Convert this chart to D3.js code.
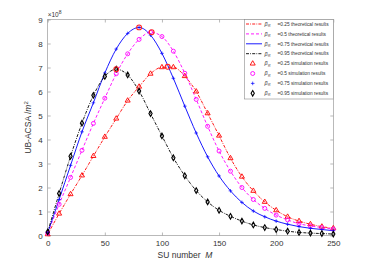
<!DOCTYPE html>
<html>
<head>
<meta charset="utf-8">
<script src="https://cdn.jsdelivr.net/npm/d3@7"></script>
<style>
  body { margin: 0; background: #fff; }
  svg { display: block; font-family: "Liberation Sans", Arial, sans-serif; }
  .axis path { display: none; }
  .axis line { stroke: #8a8a8a; stroke-width: 0.6; }
  .axis text { fill: #333; font-size: 8px; }
</style>
</head>
<body>
<div id="chart"></div>
<script>
// SU number M (x values of every marker)
const suNumber = [0, 10, 20, 30, 40, 50, 60, 70, 80, 90, 100, 110, 120, 130, 140, 150, 160, 170, 180, 190, 200, 210, 220, 230, 240, 250];

// UB-ACSA values, in units of 1e8 m^2
const beta025 = [0.05, 0.91, 1.72, 2.5, 3.31, 4.11, 4.87, 5.62, 6.2, 6.74, 7.01, 7.01, 6.64, 6.0, 5.09, 4.16, 3.22, 2.45, 1.86, 1.4, 1.05, 0.78, 0.6, 0.47, 0.37, 0.3];
const beta05 = [0.1, 1.3, 2.42, 3.55, 4.67, 5.72, 6.74, 7.57, 8.17, 8.47, 8.29, 7.68, 6.76, 5.67, 4.55, 3.52, 2.68, 2.0, 1.5, 1.13, 0.85, 0.65, 0.49, 0.4, 0.33, 0.27];
const beta075 = [0.12, 1.5, 2.92, 4.32, 5.53, 6.77, 7.77, 8.42, 8.67, 8.35, 7.59, 6.55, 5.39, 4.27, 3.28, 2.48, 1.86, 1.38, 1.02, 0.78, 0.6, 0.47, 0.37, 0.3, 0.25, 0.2];
const beta095 = [0.15, 1.75, 3.3, 4.68, 5.84, 6.63, 6.93, 6.69, 6.02, 5.08, 4.15, 3.24, 2.49, 1.87, 1.4, 1.05, 0.8, 0.6, 0.44, 0.33, 0.25, 0.18, 0.13, 0.1, 0.08, 0.06];

// maxima marked with red circles
const peakM = [105, 91, 80, 60];
const peakVal = [7.03, 8.47, 8.67, 6.93];

const xTicks = [0, 50, 100, 150, 200, 250];
const yTicks = [0, 1, 2, 3, 4, 5, 6, 7, 8, 9];

const series = [
    { beta: '0.25', values: beta025, color: '#ff0000', dash: '3,1.2,0.8,1.2', marker: 'triangle' },
    { beta: '0.5', values: beta05, color: '#ff00ff', dash: '3,2', marker: 'circle' },
    { beta: '0.75', values: beta075, color: '#0000ff', dash: null, marker: 'plus' },
    { beta: '0.95', values: beta095, color: '#000000', dash: '3,1.2,0.8,1.2', marker: 'diamond' }
];

const W = 368, H = 264;
const margin = { top: 19.5, right: 34.7, bottom: 28.5, left: 47.7 };
const width = W - margin.left - margin.right;
const height = H - margin.top - margin.bottom;

const svg = d3.select('#chart').append('svg')
    .attr('width', W)
    .attr('height', H);

const g = svg.append('g')
    .attr('transform', `translate(${margin.left},${margin.top})`);

const x = d3.scaleLinear().domain([0, 250]).range([0, width]);
const y = d3.scaleLinear().domain([0, 9]).range([height, 0]);

// Axes (ticks pointing inward)
g.append('g')
    .attr('class', 'axis')
    .attr('transform', `translate(0,${height})`)
    .call(d3.axisBottom(x).tickValues(xTicks).tickSizeInner(-3).tickSizeOuter(0).tickPadding(5));

g.append('g')
    .attr('class', 'axis')
    .call(d3.axisTop(x).tickValues(xTicks).tickSizeInner(-3).tickSizeOuter(0).tickFormat(''));

g.append('g')
    .attr('class', 'axis')
    .call(d3.axisLeft(y).tickValues(yTicks).tickSizeInner(-3).tickSizeOuter(0).tickPadding(5));

g.append('g')
    .attr('class', 'axis')
    .attr('transform', `translate(${width},0)`)
    .call(d3.axisRight(y).tickValues(yTicks).tickSizeInner(-3).tickSizeOuter(0).tickFormat(''));

g.append('rect')
    .attr('width', width)
    .attr('height', height)
    .attr('fill', 'none')
    .attr('stroke', '#8a8a8a')
    .attr('stroke-width', 0.6);

// exponent label
const expo = g.append('text')
    .attr('x', 0)
    .attr('y', -2.5)
    .attr('fill', '#333')
    .style('font-size', '6.5px');
expo.append('tspan').text('\u00d710');
expo.append('tspan').attr('dy', -3).style('font-size', '5px').text('8');

// Axis titles
const xl = svg.append('text')
    .attr('x', 185)
    .attr('y', 258)
    .attr('text-anchor', 'middle')
    .attr('fill', '#333')
    .style('font-size', '8.5px');
xl.append('tspan').text('SU number\u00a0\u00a0');
xl.append('tspan').style('font-style', 'italic').text('M');

const yl = svg.append('text')
    .attr('transform', `translate(31,${margin.top + height / 2}) rotate(-90)`)
    .attr('text-anchor', 'middle')
    .attr('fill', '#333')
    .style('font-size', '8.5px');
yl.append('tspan').text('UB-ACSA /');
yl.append('tspan').style('font-style', 'italic').text('m');
yl.append('tspan').attr('dy', -3).style('font-size', '6px').text('2');

// Markers
function drawMarker(sel, type, color) {
    if (type === 'triangle') {
        sel.append('path').attr('d', d3.symbol(d3.symbolTriangle, 11)())
            .attr('fill', 'none').attr('stroke', color).attr('stroke-width', 0.9);
    } else if (type === 'circle') {
        sel.append('circle').attr('r', 2)
            .attr('fill', 'none').attr('stroke', color).attr('stroke-width', 0.9);
    } else if (type === 'plus') {
        sel.append('path').attr('d', 'M-1.8,0H1.8M0,-1.8V1.8')
            .attr('stroke', color).attr('stroke-width', 0.7);
    } else {
        sel.append('path').attr('d', d3.symbol(d3.symbolDiamond, 9)())
            .attr('fill', 'none').attr('stroke', color).attr('stroke-width', 1.1);
    }
}

const line = d3.line()
    .x((d, i) => x(suNumber[i]))
    .y(d => y(d))
    .curve(d3.curveMonotoneX);

const plot = g.append('g');

series.forEach(s => {
    plot.append('path')
        .datum(s.values)
        .attr('d', line)
        .attr('fill', 'none')
        .attr('stroke', s.color)
        .attr('stroke-width', 0.9)
        .attr('stroke-dasharray', s.dash);
});

series.forEach(s => {
    s.values.forEach((v, i) => {
        const m = plot.append('g').attr('transform', `translate(${x(suNumber[i])},${y(v)})`);
        drawMarker(m, s.marker, s.color);
    });
});

// peak circles
peakM.forEach((m, i) => {
    plot.append('circle')
        .attr('cx', x(m))
        .attr('cy', y(peakVal[i]))
        .attr('r', 2.4)
        .attr('fill', 'none')
        .attr('stroke', '#ff2020')
        .attr('stroke-width', 1.1);
});

// Legend
const lg = svg.append('g');
lg.append('rect')
    .attr('x', 244.5)
    .attr('y', 19.5)
    .attr('width', 89)
    .attr('height', 79.5)
    .attr('fill', '#fff')
    .attr('stroke', '#8a8a8a')
    .attr('stroke-width', 0.6);

function legendLabel(row, ly, beta, kind) {
    row.append('text').attr('x', 264.5).attr('y', ly + 1.8)
        .style('font-size', '5.5px').style('font-style', 'italic').attr('fill', '#333').text('\u03b2');
    row.append('text').attr('x', 268).attr('y', ly + 3)
        .style('font-size', '3.5px').style('font-style', 'italic').attr('fill', '#333').text('R');
    row.append('text').attr('x', 277.5).attr('y', ly + 1.7)
        .style('font-size', '4.8px').attr('fill', '#333')
        .text(`=${beta} ${kind} results`);
}

series.forEach((s, i) => {
    const ly = 24 + i * 9.9;
    const row = lg.append('g');
    row.append('line')
        .attr('x1', 246).attr('x2', 262)
        .attr('y1', ly).attr('y2', ly)
        .attr('stroke', s.color)
        .attr('stroke-width', 0.9)
        .attr('stroke-dasharray', s.dash);
    legendLabel(row, ly, s.beta, 'theoretical');
});

series.forEach((s, i) => {
    const ly = 24 + (i + 4) * 9.9;
    const row = lg.append('g');
    const m = row.append('g').attr('transform', `translate(252.7,${ly})`);
    drawMarker(m, s.marker, s.color);
    legendLabel(row, ly, s.beta, 'simulation');
});
</script>
</body>
</html>
